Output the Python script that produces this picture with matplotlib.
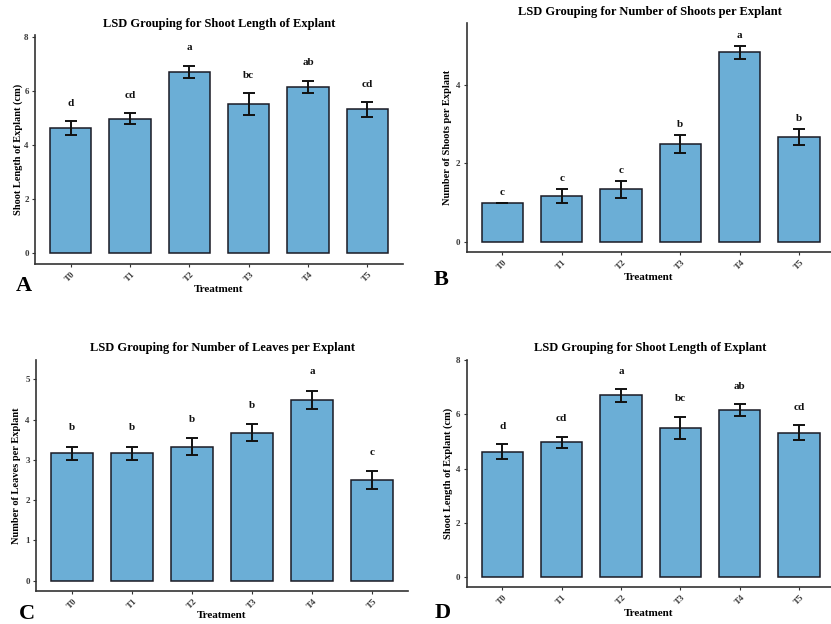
import matplotlib
matplotlib.use("Agg")
import matplotlib.pyplot as plt
import numpy as np

plt.rcParams['font.family'] = ['Liberation Serif', 'DejaVu Serif']

treatments = ["T0", "T1", "T2", "T3", "T4", "T5"]

# Panel A / D: shoot length (cm)
length_mean = [4.63, 4.97, 6.70, 5.50, 6.15, 5.32]
length_se = [0.26, 0.20, 0.23, 0.41, 0.23, 0.27]
length_letters = ["d", "cd", "a", "bc", "ab", "cd"]

# Panel B: number of shoots
shoots_mean = [1.00, 1.17, 1.34, 2.49, 4.83, 2.67]
shoots_se = [0.00, 0.17, 0.22, 0.225, 0.17, 0.21]
shoots_letters = ["c", "c", "c", "b", "a", "b"]

# Panel C: number of leaves
leaves_mean = [3.16, 3.16, 3.33, 3.67, 4.49, 2.49]
leaves_se = [0.17, 0.17, 0.20, 0.21, 0.23, 0.22]
leaves_letters = ["b", "b", "b", "b", "a", "c"]

W, H = 831, 624
fig = plt.figure(figsize=(W / 100, H / 100), dpi=100)

BAR = "#6baed6"
AXC = "#333333"


def ax_px(left, right, top, bottom):
    return fig.add_axes([left / W, 1 - bottom / H, (right - left) / W, (bottom - top) / H])


def fx(x):
    return x / W


def fy(y):
    return 1 - y / H


def panel(rect, means, ses, letters, ylim, xlim, yticks, ylabel, title,
          title_xy, ylab_x, xlab_y, tag, tag_xy, offset):
    ax = ax_px(*rect)
    x = np.arange(len(treatments))
    ax.bar(x, means, width=0.7, color=BAR, edgecolor="#1a1a24", linewidth=1.1, zorder=2)
    ax.errorbar(x, means, yerr=ses, fmt="none", ecolor="#111111", elinewidth=1.4,
                capsize=4.5, capthick=1.4, zorder=3)
    for xi, m, s, lab in zip(x, means, ses, letters):
        ax.text(xi, m + s + offset, lab, ha="center", va="center",
                fontsize=8, fontweight="bold", color="#111111")
    ax.set_xlim(*xlim)
    ax.set_ylim(*ylim)
    ax.set_yticks(yticks)
    ax.set_yticklabels([str(t) for t in yticks], fontsize=6.5, color="#3a3a3a",
                       fontweight="bold")
    ax.set_xticks(x)
    ax.set_xticklabels(treatments, fontsize=6.5, color="#3a3a3a", rotation=45,
                       ha="center", va="top", fontweight="bold")
    ax.tick_params(axis="both", length=2.5, width=0.8, color=AXC, pad=2)
    for s in ["top", "right"]:
        ax.spines[s].set_visible(False)
    for s in ["left", "bottom"]:
        ax.spines[s].set_color(AXC)
        ax.spines[s].set_linewidth(1.2)
    fig.text(fx(title_xy[0]), fy(title_xy[1]), title, ha="center", va="center",
             fontsize=9, fontweight="bold")
    fig.text(fx(ylab_x), fy((rect[2] + rect[3]) / 2), ylabel, ha="center", va="center",
             rotation=90, fontsize=7.5, fontweight="bold")
    cx = (rect[0] + min(rect[1], W)) / 2
    fig.text(fx(cx), fy(xlab_y), "Treatment", ha="center", va="center",
             fontsize=8, fontweight="bold")
    fig.text(fx(tag_xy[0]), fy(tag_xy[1]), tag, ha="center", va="center",
             fontsize=16, fontweight="bold")
    return ax


# Panel A
panel((35, 403, 35, 264), length_mean, length_se, length_letters,
      (-0.39, 8.06), (-0.6, 5.6), [0, 2, 4, 6, 8],
      "Shoot Length of Explant (cm)", "LSD Grouping for Shoot Length of Explant",
      (219, 24), 18, 289, "A", (24, 286), 0.66)

# Panel B
panel((466.7, 831, 23, 252), shoots_mean, shoots_se, shoots_letters,
      (-0.26, 5.58), (-0.6, 5.54), [0, 2, 4],
      "Number of Shoots per Explant", "LSD Grouping for Number of Shoots per Explant",
      (650, 12), 448, 277, "B", (441, 280), 0.27)

# Panel C
panel((36, 408, 360, 591), leaves_mean, leaves_se, leaves_letters,
      (-0.26, 5.48), (-0.6, 5.6), [0, 1, 2, 3, 4, 5],
      "Number of Leaves per Explant", "LSD Grouping for Number of Leaves per Explant",
      (222, 348), 17, 616, "C", (27, 614), 0.47)

# Panel D
panel((466.7, 831, 360, 587.3), length_mean, length_se, length_letters,
      (-0.37, 8.0), (-0.6, 5.54), [0, 2, 4, 6, 8],
      "Shoot Length of Explant (cm)", "LSD Grouping for Shoot Length of Explant",
      (650, 348), 448, 613, "D", (443, 613), 0.66)

fig.savefig("out.png", dpi=100)
